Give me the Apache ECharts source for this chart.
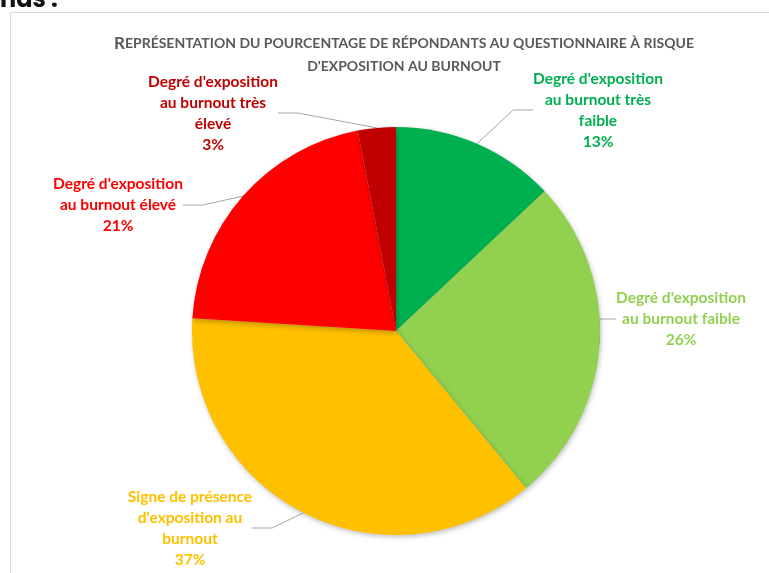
<!DOCTYPE html>
<html>
<head>
<meta charset="utf-8">
<script src="https://cdn.jsdelivr.net/npm/echarts@6/dist/echarts.min.js"></script>
<style>
html,body{margin:0;padding:0;background:#fff;}
#chart{width:769px;height:573px;}
</style>
</head>
<body>
<div id="chart"></div>
<script>
// Data
const categories = [
  "Degré d'exposition\nau burnout très\nfaible",
  "Degré d'exposition\nau burnout faible",
  "Signe de présence\nd'exposition au\nburnout",
  "Degré d'exposition\nau burnout élevé",
  "Degré d'exposition\nau burnout très\nélevé"
];
const values = [13, 26, 37, 21, 3];
const colors = ['#00B050', '#92D050', '#FFC000', '#FF0000', '#C00000'];

// Layout (label centres)
const labelPos = [[598, 110], [681, 319], [190, 528], [118, 205], [213, 113]];

const chart = echarts.init(document.getElementById('chart'), null, {renderer: 'canvas'});
const font = 'Lato, "Open Sans", sans-serif';

chart.setOption({
  backgroundColor: '#ffffff',
  animation: false,
  graphic: [
    {type: 'rect', shape: {x: 10.5, y: 12.5, width: 800, height: 600}, style: {fill: '#fff', stroke: '#D9D9D9', lineWidth: 1}, z: -10},
    {type: 'text', style: {x: 0, y: 13, text: 'nds :', fill: '#111', font: 'bold 24px Poppins, "Open Sans", sans-serif', verticalAlign: 'bottom'}, z: -5}
  ],
  title: {
    left: 399,
    top: 27,
    textAlign: 'center',
    text: "{a|R}{b|EPRÉSENTATION DU POURCENTAGE DE RÉPONDANTS AU QUESTIONNAIRE À RISQUE}\n{b|D'EXPOSITION AU BURNOUT}",
    textStyle: {
      rich: {
        a: {fontFamily: font, fontSize: 17, color: '#595959', lineHeight: 23, fontWeight: 'bold'},
        b: {fontFamily: font, fontSize: 14, color: '#595959', lineHeight: 23, fontWeight: 'bold'}
      }
    }
  },
  series: [{
    type: 'pie',
    center: [396, 331],
    radius: 204,
    startAngle: 90,
    clockwise: true,
    data: categories.map((n, i) => ({name: n, value: values[i], itemStyle: {color: colors[i]}, label: {color: colors[i]}})),
    itemStyle: {shadowBlur: 5, shadowColor: 'rgba(0,0,0,0.25)', shadowOffsetX: 1, shadowOffsetY: 2},
    label: {
      show: true,
      position: 'outside',
      formatter: '{b}\n{c}%',
      fontFamily: font,
      fontWeight: 'bold',
      fontSize: 15.5,
      lineHeight: 21,
      align: 'center',
      overflow: 'none'
    },
    labelLine: {show: true, length: 20, length2: 20, lineStyle: {color: '#A6A6A6', width: 1}},
    labelLayout: function (params) {
      const p = labelPos[params.dataIndex];
      return {x: p[0], y: p[1], align: 'center', verticalAlign: 'middle'};
    },
    emphasis: {disabled: true}
  }]
});
</script>
</body>
</html>
